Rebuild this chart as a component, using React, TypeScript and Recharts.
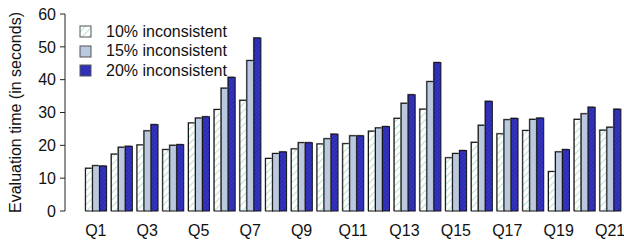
import { BarChart, Bar, XAxis, YAxis, Legend } from 'recharts';

const queries = [
  'Q1', 'Q2', 'Q3', 'Q4', 'Q5', 'Q6', 'Q7', 'Q8', 'Q9', 'Q10', 'Q11',
  'Q12', 'Q13', 'Q14', 'Q15', 'Q16', 'Q17', 'Q18', 'Q19', 'Q20', 'Q21',
];

// evaluation time in seconds
const inconsistent10 = [
  13.0, 17.3, 20.1, 18.7, 26.8, 30.9, 33.7, 16.0, 18.9, 20.4, 20.5,
  24.3, 28.2, 31.0, 16.2, 20.9, 23.5, 24.5, 12.0, 27.9, 24.6,
];
const inconsistent15 = [
  13.8, 19.4, 24.4, 20.0, 28.3, 37.4, 45.8, 17.5, 20.8, 22.0, 22.9,
  25.3, 32.8, 39.4, 17.5, 26.1, 27.8, 27.9, 18.0, 29.6, 25.5,
];
const inconsistent20 = [
  13.7, 19.7, 26.3, 20.2, 28.7, 40.7, 52.7, 18.0, 20.8, 23.4, 22.9,
  25.7, 35.4, 45.2, 18.4, 33.4, 28.2, 28.3, 18.7, 31.6, 31.0,
];

const yTicks = [0, 10, 20, 30, 40, 50, 60];

const SERIES = [
  { key: 'inc10', label: '10% inconsistent', fill: 'url(#hatch10)' },
  { key: 'inc15', label: '15% inconsistent', fill: '#bac9e0' },
  { key: 'inc20', label: '20% inconsistent', fill: 'url(#hatch20)' },
];

const FONT = '"Liberation Sans", Arial, Helvetica, sans-serif';

const data = queries.map((q, i) => ({
  q,
  inc10: inconsistent10[i],
  inc15: inconsistent15[i],
  inc20: inconsistent20[i],
}));

// bar with a soft grey shadow up and to the left, like the original plot
const ShadowBar = (props: any) => {
  const { x, y, width, height, fill } = props;
  if (!height || height <= 0) return null;
  return (
    <g>
      <rect x={x - 1} y={y - 1} width={width} height={height + 1} fill="#8f8f8f" />
      <rect x={x} y={y} width={width} height={height} fill={fill} stroke="#111" strokeWidth={1} />
    </g>
  );
};

const YLabel = (props: any) => {
  const { x, y, height } = props.viewBox;
  const cx = x + 15;
  const cy = y + height / 2;
  return (
    <text
      x={cx}
      y={cy}
      transform={`rotate(-90 ${cx} ${cy})`}
      textAnchor="middle"
      dominantBaseline="central"
      fontSize={16}
      fontFamily={FONT}
      fill="#111"
    >
      Evaluation time (in seconds)
    </text>
  );
};

const LegendBox = () => (
  <div style={{ fontFamily: FONT, fontSize: 16, color: '#111' }}>
    {SERIES.map((s) => (
      <div key={s.key} style={{ display: 'flex', alignItems: 'center', height: 19.5 }}>
        <svg width={13} height={13} style={{ display: 'block' }}>
          <rect x={1} y={1} width={11} height={11} fill={s.fill} stroke="#555" strokeWidth={1} />
        </svg>
        <span style={{ marginLeft: 14, whiteSpace: 'nowrap' }}>{s.label}</span>
      </div>
    ))}
  </div>
);

export default function App() {
  return (
    <div style={{ position: 'absolute', left: 0, top: 0, width: 624, height: 245, background: '#fff' }}>
      <BarChart
        width={624}
        height={245}
        data={data}
        margin={{ top: 14, right: 1, bottom: 0, left: 0 }}
        barCategoryGap={2.6}
        barGap={0}
      >
        <defs>
          <pattern id="hatch10" patternUnits="userSpaceOnUse" width={5} height={5} patternTransform="rotate(45)">
            <rect width={5} height={5} fill="#ffffff" />
            <line x1={0} y1={0} x2={0} y2={5} stroke="#8fd3b8" strokeWidth={1.3} />
          </pattern>
          <pattern id="hatch20" patternUnits="userSpaceOnUse" width={3} height={3} patternTransform="rotate(45)">
            <rect width={3} height={3} fill="#3434c4" />
            <line x1={0} y1={0} x2={0} y2={3} stroke="#1c1c86" strokeWidth={1} />
          </pattern>
        </defs>
        <XAxis
          dataKey="q"
          interval={1}
          axisLine={false}
          tickLine={false}
          tickMargin={8}
          height={34}
          padding={{ left: 18, right: 0 }}
          tick={{ fill: '#111', fontSize: 16, fontFamily: FONT }}
        />
        <YAxis
          domain={[0, 60]}
          ticks={yTicks}
          width={65}
          tickSize={5}
          tickMargin={4}
          axisLine={{ stroke: '#222' }}
          tickLine={{ stroke: '#222' }}
          tick={{ fill: '#111', fontSize: 16, fontFamily: FONT }}
          label={<YLabel />}
        />
        <Legend
          content={<LegendBox />}
          layout="vertical"
          align="center"
          verticalAlign="middle"
          wrapperStyle={{ left: 79, top: 22, width: 170 }}
        />
        {SERIES.map((s) => (
          <Bar
            key={s.key}
            dataKey={s.key}
            name={s.label}
            fill={s.fill}
            shape={<ShadowBar />}
            isAnimationActive={false}
          />
        ))}
      </BarChart>
    </div>
  );
}
